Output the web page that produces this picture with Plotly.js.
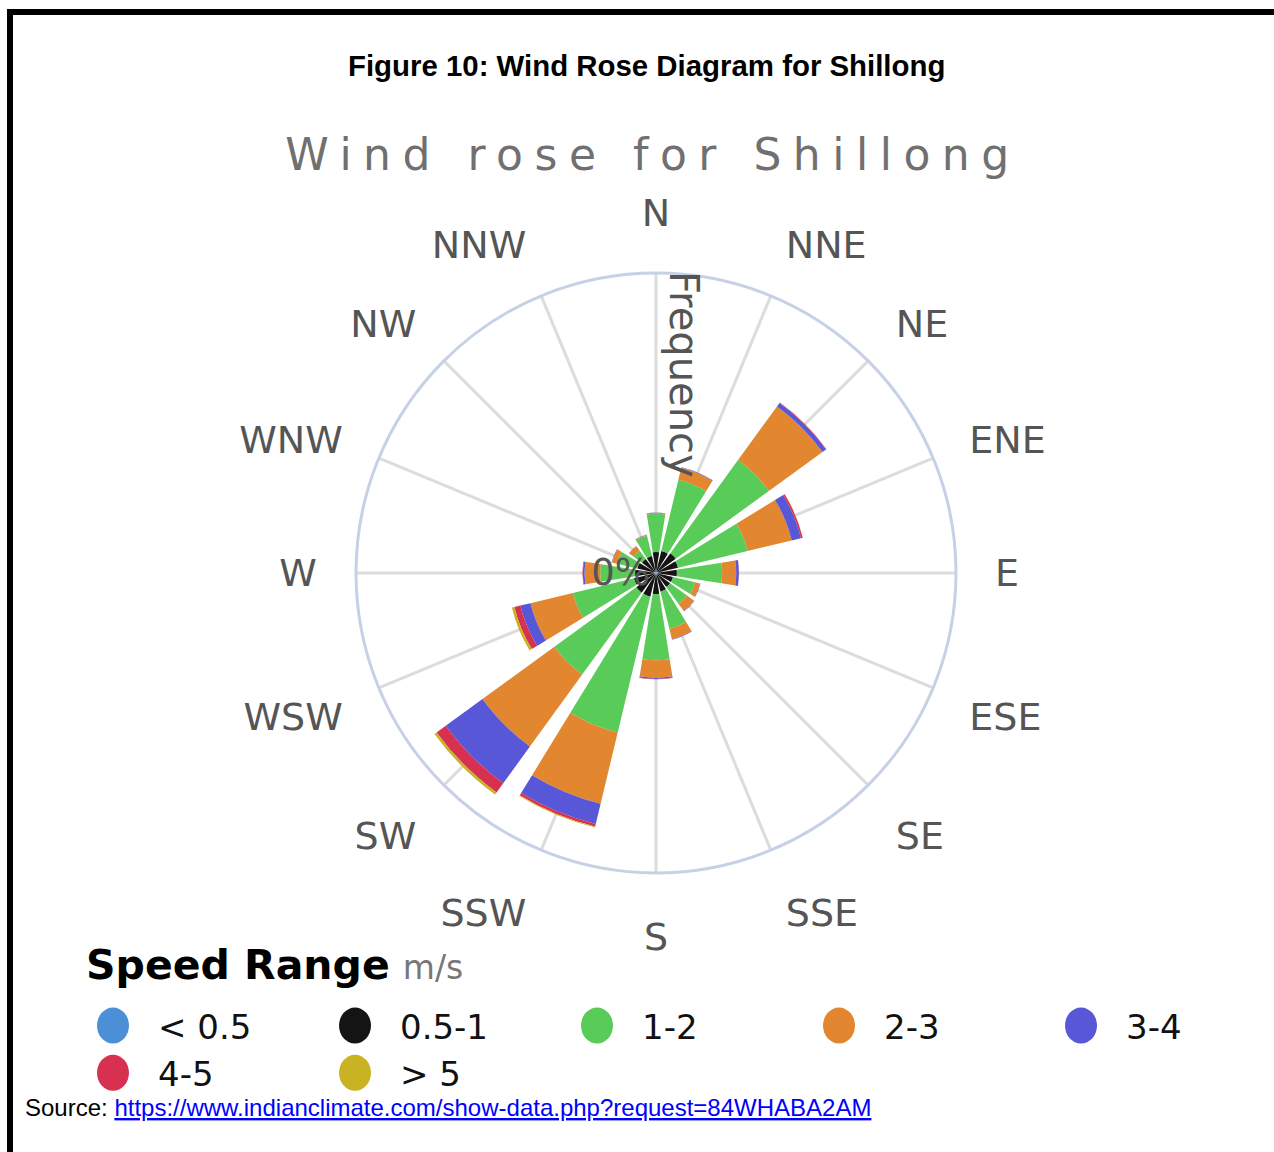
<!DOCTYPE html>
<html>
<head>
<meta charset="utf-8">
<script src="https://cdn.plot.ly/plotly-3.0.1.min.js"></script>
<style>
  html, body { margin: 0; padding: 0; background: #fff; overflow: hidden; }
  #wrap { position: relative; width: 1274px; height: 1152px; overflow: hidden; }
  #chart { position: absolute; left: 0; top: 0; width: 1340px; height: 1152px; }
  #frame { position: absolute; left: 7px; top: 9px; width: 1280px; height: 1160px;
           border-top: 6px solid #000; border-left: 6px solid #000; pointer-events: none; }
</style>
</head>
<body>
<div id="wrap">
  <div id="chart"></div>
  <div id="frame"></div>
</div>
<script>
// ---- data (frequency in %, per direction and speed range) ----
const directions = ['N','NNE','NE','ENE','E','ESE','SE','SSE','S','SSW','SW','WSW','W','WNW','NW','NNW'];
const speedLabels = ['< 0.5', '0.5-1', '1-2', '2-3', '3-4', '4-5', '> 5'];
const speedColors = ['#4b8fd6', '#141414', '#58cb58', '#e2872f', '#5757d8', '#d83050', '#c9b322'];

const freqBelow05 = [0.1,0.1,0.1,0.1,0.1,0.1,0.1,0.1,0.1,0.1,0.1,0.1,0.1,0.1,0.1,0.1];
const freq05to1   = [1.1,1.2,1.3,1.2,1.1,0.9,0.9,1.0,1.1,1.3,1.3,1.2,1.1,1.0,0.9,0.9];
const freq1to2    = [2.2,4.2,6.6,4.1,2.6,1.3,1.2,2.2,3.8,8.0,5.8,3.6,2.0,1.2,0.6,1.2];
const freq2to3    = [0.05,0.7,3.8,2.6,0.8,0.3,0.5,0.6,1.0,4.2,5.1,2.5,0.9,0.3,0.3,0.05];
const freq3to4    = [0.02,0.03,0.25,0.55,0.15,0.02,0.02,0.03,0.07,1.2,2.6,0.6,0.1,0.02,0.02,0.02];
const freq4to5    = [0,0,0.03,0.1,0.01,0,0,0,0.02,0.15,0.65,0.35,0.02,0,0,0];
const freqAbove5  = [0,0,0,0.01,0,0,0,0,0,0.05,0.15,0.15,0,0,0,0];

const seriesValues = [freqBelow05, freq05to1, freq1to2, freq2to3, freq3to4, freq4to5, freqAbove5];

const traces = seriesValues.map((vals, i) => ({
  type: 'barpolar',
  name: speedLabels[i],
  r: vals,
  theta: directions,
  marker: { color: speedColors[i], line: { width: 0 } },
  hoverinfo: 'name+r+theta'
}));

const PW = 1340, H = 1152;          // plot paper (viewport shows the left 1274 px)
const cx = 656, cy = 573, rad = 300;

const layout = {
  width: PW, height: H, autosize: false,
  margin: { l: 0, r: 0, t: 0, b: 0 },
  paper_bgcolor: '#ffffff',
  plot_bgcolor: '#ffffff',
  font: { family: 'DejaVu Sans', color: '#555' },
  title: {
    text: 'Wind rose for Shillong',
    x: 653 / PW, y: 1 - 155 / H, xanchor: 'center', yanchor: 'middle',
    font: { family: 'DejaVu Sans', size: 44, color: '#707070' }
  },
  showlegend: true,
  legend: {
    orientation: 'h',
    x: 68 / PW, xanchor: 'left',
    y: 1 - 997 / H, yanchor: 'top',
    bgcolor: 'rgba(0,0,0,0)',
    font: { family: 'DejaVu Sans', size: 34, color: '#111' },
    entrywidth: 147,
    itemwidth: 80,
    traceorder: 'normal',
    itemclick: false
  },
  polar: {
    domain: { x: [(cx - rad) / PW, (cx + rad) / PW], y: [1 - (cy + rad) / H, 1 - (cy - rad) / H] },
    bgcolor: '#ffffff',
    barmode: 'stack',
    bargap: 0.2,
    angularaxis: {
      rotation: 90,
      direction: 'clockwise',
      showgrid: true,
      gridcolor: '#dcdcdc',
      gridwidth: 3,
      showline: true,
      linecolor: '#c6d1e6',
      linewidth: 3,
      ticks: 'outside',
      ticklen: 30,
      tickcolor: 'rgba(0,0,0,0)',
      tickfont: { family: 'DejaVu Sans', size: 38, color: '#555' }
    },
    radialaxis: {
      angle: 90,
      range: [0, 17.2],
      showgrid: false,
      showline: false,
      ticks: '',
      tickmode: 'linear',
      tick0: 0,
      dtick: 20,
      ticksuffix: '%',
      tickangle: 90,
      side: 'counterclockwise',
      layer: 'above traces',
      tickfont: { family: 'DejaVu Sans', size: 37, color: '#555' }
    }
  },
  annotations: [
    {
      text: '<b>Figure 10: Wind Rose Diagram for Shillong</b>',
      xref: 'paper', yref: 'paper', x: 646 / PW, y: 1 - 65 / H,
      xanchor: 'center', yanchor: 'middle', showarrow: false,
      font: { family: 'Liberation Sans', size: 29.4, color: '#000' }
    },
    {
      text: 'Frequency',
      xref: 'paper', yref: 'paper', x: 684 / PW, y: 1 - 374 / H,
      xanchor: 'center', yanchor: 'middle', showarrow: false, textangle: 90,
      font: { family: 'DejaVu Sans', size: 40, color: '#555' }
    },
    {
      text: '<b>Speed Range</b> <span style="font-size:33px;color:#777">m/s</span>',
      xref: 'paper', yref: 'paper', x: 84 / PW, y: 1 - 965 / H,
      xanchor: 'left', yanchor: 'middle', showarrow: false,
      font: { family: 'DejaVu Sans', size: 41, color: '#000' }
    },
    {
      text: 'Source: <span style="color:#0000ff;text-decoration:underline">https://www.indianclimate.com/show-data.php?request=84WHABA2AM</span>',
      xref: 'paper', yref: 'paper', x: 23 / PW, y: 1 - 1107 / H,
      xanchor: 'left', yanchor: 'middle', showarrow: false,
      font: { family: 'Liberation Sans', size: 24, color: '#000' }
    }
  ]
};

Plotly.newPlot('chart', traces, layout, { displayModeBar: false, staticPlot: true }).then(function (gd) {
  // widen letter spacing of the chart title
  const t = gd.querySelector('.gtitle');
  if (t) { t.style.letterSpacing = '11.5px'; }
  // round legend markers
  gd.querySelectorAll('.legend .legendpoints path').forEach(function (p) {
    p.setAttribute('d', 'M0,-18A16,18 0 1,1 0,18A16,18 0 1,1 0,-18Z');
  });
});
</script>
</body>
</html>
